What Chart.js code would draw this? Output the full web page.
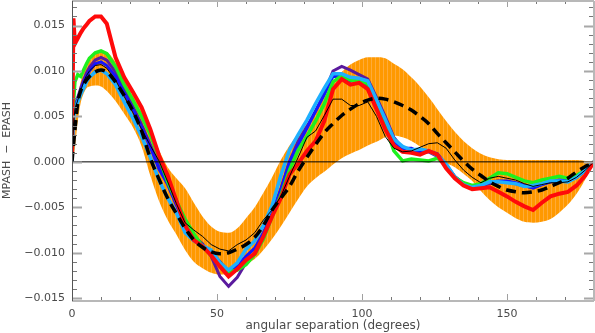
<!DOCTYPE html>
<html>
<head>
<meta charset="utf-8">
<script src="https://cdn.jsdelivr.net/npm/chart.js@4.4.1/dist/chart.umd.min.js"></script>
<style>
html,body{margin:0;padding:0;background:#fff;}
#wrap{width:595px;height:333px;}
</style>
</head>
<body>
<div id="wrap"><canvas id="c" width="595" height="333"></canvas></div>
<script>
// ---- data ----
const xs = [0,0.5,1,2,3,4,5,6,8,10,12,
  15,18,21,24,27,30,
  33,36,39,42,45,48,51,54,57,60,
  63,66,69,72,75,78,81,84,87,90,
  93,96,99,102,105,108,111,114,117,120,
  123,126,129,132,135,138,141,144,147,150,
  153,156,159,162,165,168,171,174,177,180];

const bandUpper = [0.0002,0.0025,0.0045,0.0072,0.0088,0.0098,0.0105,0.0111,0.0119,0.0122,0.0121,
  0.0110,0.0094,0.0077,0.0057,0.0037,0.0013,
  -0.0006,-0.0018,-0.0029,-0.0045,-0.0060,-0.0071,-0.0077,-0.0078,-0.0073,-0.0062,
  -0.0050,-0.0034,-0.0017,0.0002,0.0018,0.0031,0.0042,0.0055,0.0071,0.0088,
  0.0099,0.0107,0.0112,0.0115,0.0115,0.0114,0.0108,0.0102,0.0093,0.0083,
  0.0071,0.0058,0.0045,0.0033,0.0023,0.0015,0.0009,0.0005,0.0003,0.0002,
  0.0002,0.0002,0.0002,0.0002,0.0002,0.0002,0.0002,0.0002,0.0001,0.0000];

const bandLower = [0.0000,0.0005,0.0015,0.0045,0.0065,0.0075,0.0081,0.0083,0.0084,0.0083,0.0078,
  0.0067,0.0053,0.0038,0.0017,-0.0015,-0.0043,
  -0.0064,-0.0080,-0.0097,-0.0110,-0.0117,-0.0122,-0.0124,-0.0123,-0.0119,-0.0113,
  -0.0107,-0.0097,-0.0085,-0.0071,-0.0056,-0.0041,-0.0027,-0.0018,-0.0011,-0.0003,
  0.0004,0.0009,0.0013,0.0018,0.0022,0.0027,0.0029,0.0027,0.0023,0.0017,
  0.0011,0.0005,-0.0001,-0.0006,-0.0013,-0.0021,-0.0032,-0.0042,-0.0050,-0.0056,
  -0.0062,-0.0066,-0.0067,-0.0066,-0.0063,-0.0056,-0.0047,-0.0035,-0.0019,0.0000];

const modelDashed = [0.0000,0.0018,0.0035,0.0065,0.0078,0.0085,0.0090,0.0094,0.0099,0.0101,0.0099,
  0.0088,0.0073,0.0056,0.0034,0.0004,-0.0019,
  -0.0040,-0.0057,-0.0073,-0.0086,-0.0094,-0.0099,-0.0101,-0.0100,-0.0096,-0.0091,
  -0.0083,-0.0070,-0.0053,-0.0040,-0.0027,-0.0010,0.0005,0.0019,0.0032,0.0042,
  0.0051,0.0058,0.0064,0.0068,0.0070,0.0069,0.0066,0.0062,0.0057,0.0050,
  0.0042,0.0031,0.0021,0.0011,0.0001,-0.0008,-0.0015,-0.0022,-0.0027,-0.0031,
  -0.0033,-0.0034,-0.0033,-0.0031,-0.0027,-0.0023,-0.0018,-0.0011,-0.0005,0.0000];

const redSeries = [0.0005,0.0158,0.0130,0.0136,0.0142,0.0147,0.0151,0.0155,0.0160,0.0160,0.0152,
  0.0115,0.0093,0.0077,0.0060,0.0036,0.0007,
  -0.0015,-0.0043,-0.0070,-0.0086,-0.0093,-0.0103,-0.0115,-0.0126,-0.0118,-0.0108,
  -0.0101,-0.0082,-0.0060,-0.0040,-0.0014,-0.0002,0.0012,0.0023,0.0045,0.0080,
  0.0091,0.0085,0.0087,0.0080,0.0058,0.0036,0.0018,0.0011,0.0010,0.0008,
  0.0012,0.0008,-0.0007,-0.0018,-0.0026,-0.0030,-0.0029,-0.0028,-0.0033,-0.0038,
  -0.0044,-0.0049,-0.0053,-0.0045,-0.0038,-0.0035,-0.0033,-0.0026,-0.0015,0.0000];

const greenSeries = [0.0005,0.0065,0.0088,0.0096,0.0094,0.0101,0.0108,0.0114,0.0120,0.0122,0.0119,
  0.0105,0.0085,0.0068,0.0050,0.0030,0.0005,
  -0.0022,-0.0043,-0.0063,-0.0079,-0.0093,-0.0103,-0.0111,-0.0121,-0.0119,-0.0113,
  -0.0102,-0.0085,-0.0060,-0.0037,-0.0009,0.0013,0.0028,0.0045,0.0064,0.0088,
  0.0095,0.0090,0.0089,0.0086,0.0068,0.0040,0.0012,0.0001,0.0003,0.0002,
  0.0001,0.0004,-0.0004,-0.0017,-0.0023,-0.0026,-0.0024,-0.0018,-0.0012,-0.0013,
  -0.0017,-0.0021,-0.0023,-0.0020,-0.0018,-0.0016,-0.0018,-0.0015,-0.0009,0.0000];

const cyanSeries = [0.0000,0.0045,0.0057,0.0066,0.0074,0.0081,0.0088,0.0093,0.0099,0.0101,0.0097,
  0.0085,0.0066,0.0048,0.0028,0.0005,-0.0020,
  -0.0040,-0.0056,-0.0078,-0.0087,-0.0092,-0.0097,-0.0111,-0.0119,-0.0111,-0.0096,
  -0.0087,-0.0070,-0.0048,-0.0015,0.0013,0.0030,0.0046,0.0064,0.0081,0.0097,
  0.0097,0.0093,0.0092,0.0089,0.0068,0.0047,0.0025,0.0017,0.0013,0.0014,
  0.0012,0.0007,-0.0002,-0.0017,-0.0025,-0.0028,-0.0026,-0.0022,-0.0022,-0.0023,
  -0.0024,-0.0027,-0.0026,-0.0024,-0.0021,-0.0021,-0.0022,-0.0017,-0.0009,0.0000];

const blueSeries = [0.0000,0.0050,0.0060,0.0069,0.0078,0.0087,0.0094,0.0100,0.0108,0.0110,0.0106,
  0.0094,0.0076,0.0058,0.0038,0.0016,-0.0008,
  -0.0025,-0.0048,-0.0069,-0.0084,-0.0092,-0.0099,-0.0110,-0.0121,-0.0114,-0.0104,
  -0.0095,-0.0078,-0.0056,-0.0031,0.0000,0.0019,0.0037,0.0056,0.0074,0.0094,
  0.0094,0.0089,0.0090,0.0085,0.0063,0.0040,0.0022,0.0015,0.0015,0.0011,
  0.0012,0.0009,-0.0003,-0.0016,-0.0024,-0.0027,-0.0025,-0.0022,-0.0021,-0.0021,
  -0.0023,-0.0026,-0.0029,-0.0025,-0.0022,-0.0020,-0.0020,-0.0016,-0.0009,0.0000];

const purpleSeries = [0.0000,0.0050,0.0062,0.0071,0.0081,0.0090,0.0098,0.0104,0.0112,0.0115,0.0112,
  0.0099,0.0080,0.0061,0.0041,0.0019,-0.0004,
  -0.0022,-0.0042,-0.0070,-0.0082,-0.0090,-0.0104,-0.0126,-0.0137,-0.0127,-0.0111,
  -0.0101,-0.0079,-0.0057,-0.0030,0.0000,0.0023,0.0039,0.0056,0.0076,0.0100,
  0.0105,0.0101,0.0096,0.0091,0.0071,0.0050,0.0027,0.0015,0.0013,0.0010,
  0.0011,0.0006,-0.0005,-0.0018,-0.0025,-0.0029,-0.0027,-0.0024,-0.0022,-0.0022,
  -0.0024,-0.0027,-0.0028,-0.0025,-0.0022,-0.0021,-0.0021,-0.0017,-0.0010,0.0000];

const thinBlackSeries = [0.0000,0.0040,0.0058,0.0068,0.0078,0.0088,0.0095,0.0100,0.0106,0.0107,0.0103,
  0.0090,0.0072,0.0054,0.0036,0.0018,0.0001,
  -0.0022,-0.0046,-0.0067,-0.0075,-0.0082,-0.0091,-0.0096,-0.0098,-0.0091,-0.0086,
  -0.0078,-0.0064,-0.0053,-0.0038,-0.0016,0.0005,0.0027,0.0034,0.0051,0.0069,
  0.0069,0.0062,0.0062,0.0066,0.0050,0.0028,0.0015,0.0011,0.0012,0.0016,
  0.0020,0.0021,0.0015,0.0002,-0.0009,-0.0017,-0.0023,-0.0018,-0.0016,-0.0018,
  -0.0020,-0.0024,-0.0027,-0.0025,-0.0023,-0.0023,-0.0022,-0.0017,-0.0009,0.0000];

const zeroLineX = [0, 180];
const zeroLineY = [0, 0];

const xTickValues = [0, 50, 100, 150];
const xTickLabels = ['0', '50', '100', '150'];
const xMinorTicks = [0,10,20,30,40,50,60,70,80,90,100,110,120,130,140,150,160,170,180];
const yTickValues = [-0.015, -0.010, -0.005, 0.000, 0.005, 0.010, 0.015];
const yTickLabels = ['\u22120.015', '\u22120.010', '\u22120.005', '0.000', '0.005', '0.010', '0.015'];
const yMinorTicks = [-0.015,-0.014,-0.013,-0.012,-0.011,-0.010,-0.009,-0.008,-0.007,-0.006,
  -0.005,-0.004,-0.003,-0.002,-0.001,0,0.001,0.002,0.003,0.004,0.005,0.006,0.007,0.008,
  0.009,0.010,0.011,0.012,0.013,0.014,0.015,0.016,0.017];

// ---- helpers ----
const pts = (xa, ya) => xa.map((x, i) => ({x: x, y: ya[i]}));

// vertical hatch pattern for the band
const pc = document.createElement('canvas');
pc.width = 4; pc.height = 4;
const pctx = pc.getContext('2d');
pctx.fillStyle = '#ff9900'; pctx.fillRect(0, 0, 4, 4);
pctx.fillStyle = '#ffab38'; pctx.fillRect(3, 0, 1, 4);
const bandPattern = document.getElementById('c').getContext('2d').createPattern(pc, 'repeat');

const FONT = {family: "'DejaVu Sans', sans-serif", size: 11};
const TITLE_FONT = {family: "'DejaVu Sans', sans-serif", size: 12};
const TXT = '#4a4a4a';

const axisFrame = {
  id: 'axisFrame',
  afterDatasetsDraw(chart) {
    const {ctx, chartArea: a, scales: {x, y}} = chart;
    ctx.save();
    xMinorTicks.forEach(v => {
      const px = Math.round(x.getPixelForValue(v)) + 0.5;
      const major = xTickValues.includes(v);
      const len = major ? 6 : 3;
      ctx.strokeStyle = major ? '#a0a0a0' : '#777';
      ctx.lineWidth = 1;
      ctx.beginPath();
      ctx.moveTo(px, a.bottom); ctx.lineTo(px, a.bottom - len);
      ctx.moveTo(px, a.top); ctx.lineTo(px, a.top + len);
      ctx.stroke();
    });
    yMinorTicks.forEach(v => {
      const py = Math.round(y.getPixelForValue(v)) + 0.5;
      const major = yTickValues.some(t => Math.abs(t - v) < 1e-9);
      const len = major ? 10 : 5;
      ctx.strokeStyle = major ? '#a8a8a8' : '#777';
      ctx.lineWidth = major ? 2 : 1;
      ctx.beginPath();
      ctx.moveTo(a.left, py); ctx.lineTo(a.left + len, py);
      ctx.moveTo(a.right, py); ctx.lineTo(a.right - len, py);
      ctx.stroke();
    });
    ctx.strokeStyle = '#b8b8b8';
    ctx.lineWidth = 2;
    ctx.beginPath();
    ctx.moveTo(a.left, a.top); ctx.lineTo(a.right, a.top);
    ctx.moveTo(a.left, a.bottom + 1); ctx.lineTo(a.right, a.bottom + 1);
    ctx.moveTo(a.right, a.top); ctx.lineTo(a.right, a.bottom + 1);
    ctx.stroke();
    ctx.strokeStyle = '#555';
    ctx.lineWidth = 1;
    ctx.beginPath();
    ctx.moveTo(a.left + 0.5, a.top); ctx.lineTo(a.left + 0.5, a.bottom + 1);
    ctx.stroke();
    ctx.restore();
  }
};

const lineDs = (data, color, width, order, extra) => Object.assign({
  data: data, borderColor: color, borderWidth: width, pointRadius: 0,
  fill: false, tension: 0, order: order
}, extra || {});

new Chart(document.getElementById('c'), {
  type: 'line',
  data: {
    datasets: [
      {data: pts(xs, bandUpper), borderWidth: 0, borderColor: 'rgba(0,0,0,0)', pointRadius: 0,
       fill: '+1', backgroundColor: bandPattern, cubicInterpolationMode: 'monotone', order: 100},
      {data: pts(xs, bandLower), borderWidth: 0, borderColor: 'rgba(0,0,0,0)', pointRadius: 0,
       fill: false, cubicInterpolationMode: 'monotone', order: 99},
      lineDs(pts(xs, purpleSeries), '#5a1a9e', 3, 9),
      lineDs(pts(xs, blueSeries), '#1414ff', 3, 8),
      lineDs(pts(xs, greenSeries), '#1ef01e', 3.5, 7),
      lineDs(pts(xs, cyanSeries), '#1eb0ff', 3.5, 6),
      lineDs(pts(xs, redSeries), '#ff0a0a', 4, 5),
      lineDs(pts(xs, modelDashed), '#000000', 3.5, 3, {borderDash: [10, 6], cubicInterpolationMode: 'monotone'}),
      lineDs(pts(xs, thinBlackSeries), '#000000', 1, 2),
      lineDs(pts(zeroLineX, zeroLineY), '#000000', 1, 1)
    ]
  },
  options: {
    responsive: false,
    animation: false,
    devicePixelRatio: 1,
    layout: {padding: {top: 1, right: 1, left: 0, bottom: 0}},
    plugins: {legend: {display: false}, tooltip: {enabled: false}},
    scales: {
      x: {
        type: 'linear', position: 'bottom', min: 0, max: 180,
        grid: {display: false, drawTicks: false},
        border: {display: false},
        afterBuildTicks: s => { s.ticks = xTickValues.map(v => ({value: v})); },
        afterFit: s => { s.height = 33; s.paddingLeft = 0; s.paddingRight = 0; },
        ticks: {
          padding: 8, font: FONT, color: TXT, maxRotation: 0, autoSkip: false,
          callback: v => { const i = xTickValues.indexOf(v); return i >= 0 ? xTickLabels[i] : ''; }
        },
        title: {display: true, text: 'angular separation (degrees)', font: TITLE_FONT, color: TXT,
                padding: {top: 0, bottom: 0}}
      },
      y: {
        type: 'linear', min: -0.0152, max: 0.0177,
        grid: {display: false, drawTicks: false},
        border: {display: false},
        afterBuildTicks: s => { s.ticks = yTickValues.map(v => ({value: v})); },
        afterFit: s => { s.width = 72; s.paddingTop = 0; s.paddingBottom = 0; },
        ticks: {
          padding: 7, font: FONT, color: TXT, autoSkip: false,
          callback: v => { const i = yTickValues.findIndex(t => Math.abs(t - v) < 1e-9); return i >= 0 ? yTickLabels[i] : ''; }
        },
        title: {display: true, text: 'MPASH  \u2212  EPASH', font: FONT, color: TXT,
                padding: {top: 1, bottom: 0}}
      }
    }
  },
  plugins: [axisFrame]
});
</script>
</body>
</html>
